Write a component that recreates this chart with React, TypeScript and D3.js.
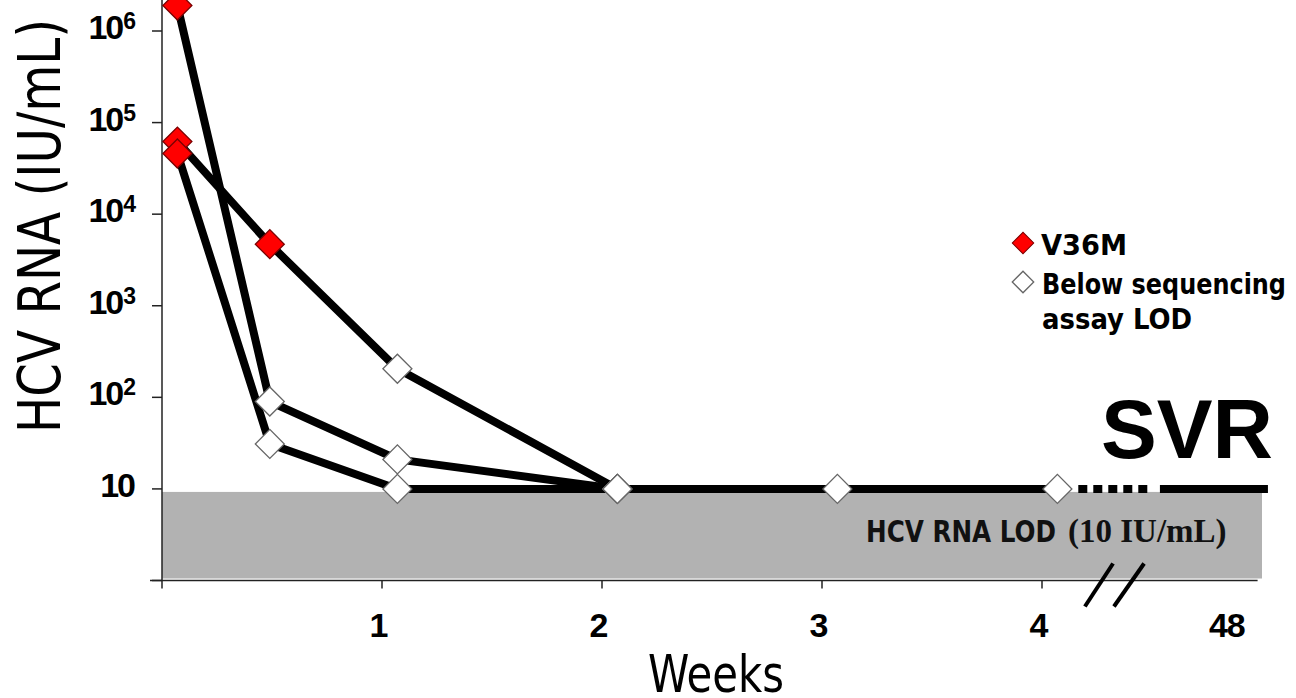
import React from 'react';
import * as d3 from 'd3';

// weeks on treatment (sampling days converted to weeks)
const weeksA = [0.07, 0.49, 1.07, 2.07];
const weeksB = [0.07, 0.49, 1.07, 2.07];
const weeksC = [0.07, 0.49, 1.07, 2.07, 3.07, 4.07];

// HCV RNA (IU/mL)
const rnaA = [1.9e6, 90, 21, 10];
const rnaB = [6.2e4, 4.7e3, 205, 10];
const rnaC = [4.6e4, 31, 10, 10, 10, 10];

// true = V36M detected, false = below sequencing assay LOD
const v36mA = [true, false, false, false];
const v36mB = [true, true, false, false];
const v36mC = [true, false, false, false, false, false];

const xTicks = [0, 1, 2, 3, 4];
const xTickLabels = ['', '1', '2', '3', '4'];
const yTicks = [1, 10, 1e2, 1e3, 1e4, 1e5, 1e6];
const yTickLabels = ['', '10', '10|2', '10|3', '10|4', '10|5', '10|6'];

// position of the "48" week label after the axis break (axis units)
const breakLabelPos = 4.84;
const breakDotted = [4.165, 4.5];
const breakSolid = [4.536, 5.027];
const lodValue = 10;

const W = 1296, H = 698;

export default function App() {
  const x = d3.scaleLinear().domain([0, 5]).range([162, 1262]);
  const y = d3.scaleLog().domain([1, 1e6]).range([580.5, 31]);
  const axisY = y(1);
  const axisX = x(0);

  const line = d3.line<[number, number]>()
    .x(d => x(d[0]))
    .y(d => y(d[1]));

  const patients = [
    { w: weeksA, v: rnaA, m: v36mA },
    { w: weeksB, v: rnaB, m: v36mB },
    { w: weeksC, v: rnaC, m: v36mC },
  ];

  const diamond = d3.symbol().type(d3.symbolSquare).size(420)() as string;
  const legendDiamond = d3.symbol().type(d3.symbolSquare).size(230)() as string;

  const boldSans = "'DejaVu Sans Condensed', 'DejaVu Sans', sans-serif";

  return (
    <svg width={W} height={H} style={{ position: 'absolute', left: 0, top: 0, display: 'block', background: '#fff' }}>
      {/* LOD band */}
      <rect x={x(0)} y={y(lodValue) + 3} width={x(5) - x(0)} height={axisY - 2 - (y(lodValue) + 3)} fill="#b2b2b2" />
      <text x={866} y={542} fill="#111" fontSize={30} fontWeight="bold" fontFamily={boldSans}
        textLength={190} lengthAdjust="spacingAndGlyphs">HCV RNA LOD</text>
      <text x={1068} y={542} fill="#111" fontSize={33} fontWeight="bold"
        fontFamily="'Liberation Serif', serif">(10 IU/mL)</text>

      {/* axes */}
      <line x1={axisX} x2={axisX} y1={0} y2={axisY} stroke="#222" strokeWidth={1.5} />
      <line x1={axisX - 12} x2={x(4.98)} y1={axisY} y2={axisY} stroke="#222" strokeWidth={1.5} />
      {yTicks.map((t, i) => {
        const parts = yTickLabels[i].split('|');
        return (
          <g key={'y' + t}>
            <line x1={axisX - 10} x2={axisX} y1={y(t)} y2={y(t)} stroke="#222" strokeWidth={1.5} />
            {parts[0] && (
              <text x={134} y={y(t) + 8} textAnchor="end" fontFamily="'Liberation Sans', Arial, sans-serif"
                fontWeight="bold" fontSize={34} fill="#000" letterSpacing={-2}>
                {parts[0]}
                {parts[1] && <tspan fontSize={23} dy={-10} dx={1}>{parts[1]}</tspan>}
              </text>
            )}
          </g>
        );
      })}
      {xTicks.map((t, i) => (
        <g key={'x' + t}>
          <line x1={x(t)} x2={x(t)} y1={axisY} y2={axisY + 8} stroke="#222" strokeWidth={1.5} />
          <text x={x(t) - 3} y={637} textAnchor="middle" fontFamily="'Liberation Sans', Arial, sans-serif"
            fontWeight="bold" fontSize={34} fill="#000">{xTickLabels[i]}</text>
        </g>
      ))}
      <text x={x(breakLabelPos)} y={637} textAnchor="middle" fontFamily="'Liberation Sans', Arial, sans-serif"
        fontWeight="bold" fontSize={34} fill="#000" letterSpacing={-1}>48</text>

      {/* axis break marks */}
      <line x1={x(4.195)} y1={axisY + 26} x2={x(4.323)} y2={axisY - 17} stroke="#000" strokeWidth={4} />
      <line x1={x(4.327)} y1={axisY + 26} x2={x(4.464)} y2={axisY - 17} stroke="#000" strokeWidth={4} />

      {/* SVR continuation */}
      <line x1={x(breakDotted[0])} x2={x(breakDotted[1])} y1={y(lodValue)} y2={y(lodValue)}
        stroke="#000" strokeWidth={8} strokeDasharray="9 6" />
      <line x1={x(breakSolid[0])} x2={x(breakSolid[1])} y1={y(lodValue)} y2={y(lodValue)}
        stroke="#000" strokeWidth={8} />
      <text x={1187} y={458} textAnchor="middle" fontFamily="'Liberation Sans', Arial, sans-serif"
        fontWeight="bold" fontSize={84} fill="#000" textLength={172} lengthAdjust="spacingAndGlyphs">SVR</text>

      {/* patient lines */}
      {patients.map((p, i) => (
        <path key={'l' + i} d={line(p.w.map((w, j) => [w, p.v[j]] as [number, number])) || ''}
          fill="none" stroke="#000" strokeWidth={8} strokeLinejoin="round" />
      ))}
      {patients.map((p, i) => p.w.map((w, j) => (
        <path key={'m' + i + '-' + j} d={diamond}
          transform={`translate(${x(w)},${y(p.v[j])}) rotate(45)`}
          fill={p.m[j] ? '#ff0000' : '#ffffff'}
          stroke={p.m[j] ? '#7a0000' : '#666'} strokeWidth={1.3} />
      )))}

      {/* legend */}
      <path d={legendDiamond} transform="translate(1023,243) rotate(45)" fill="#ff0000" stroke="#7a0000" strokeWidth={1} />
      <path d={legendDiamond} transform="translate(1023,282) rotate(45)" fill="#fff" stroke="#666" strokeWidth={1.3} />
      <g fontFamily={boldSans} fontWeight="bold" fontSize={29} fill="#000">
        <text x={1041} y={255} textLength={86} lengthAdjust="spacingAndGlyphs">V36M</text>
        <text x={1042} y={294} textLength={244} lengthAdjust="spacingAndGlyphs">Below sequencing</text>
        <text x={1042} y={329} textLength={150} lengthAdjust="spacingAndGlyphs">assay LOD</text>
      </g>

      {/* axis titles */}
      <text transform="translate(60,226) rotate(-90)" textAnchor="middle"
        fontFamily="'DejaVu Sans Condensed', 'DejaVu Sans', sans-serif" fontSize={58} fill="#000"
        textLength={414} lengthAdjust="spacingAndGlyphs">HCV RNA (IU/mL)</text>
      <text x={716} y={692} textAnchor="middle"
        fontFamily="'DejaVu Sans Condensed', 'DejaVu Sans', sans-serif" fontSize={52} fill="#000"
        textLength={136} lengthAdjust="spacingAndGlyphs">Weeks</text>
    </svg>
  );
}
